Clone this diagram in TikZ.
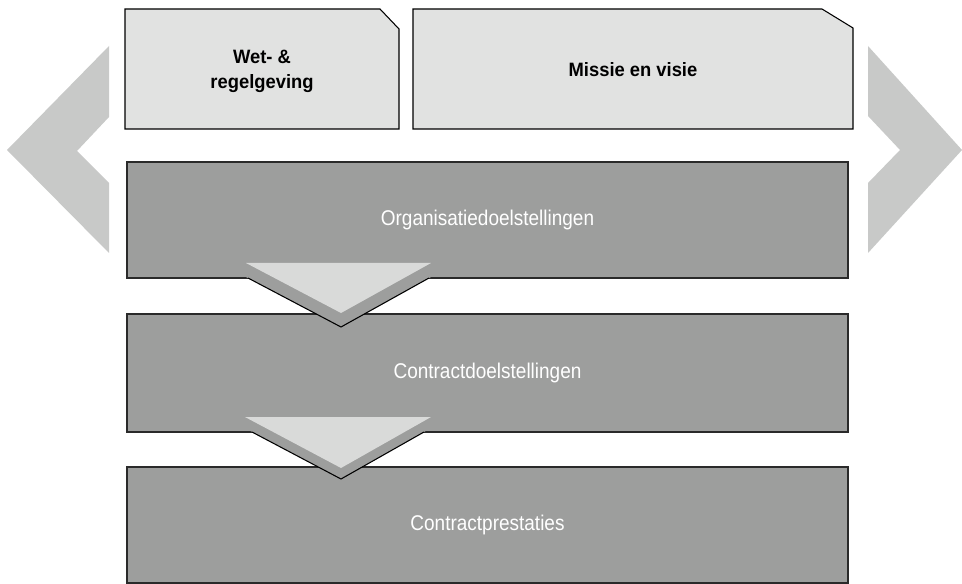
\documentclass[tikz,border=0pt]{standalone}
\usepackage{fontspec}
\newfontfamily\boldtxt{Liberation Sans}[FakeStretch=0.95]
\newfontfamily\lighttxt{Liberation Sans}[FakeStretch=0.89]
\definecolor{topfill}{HTML}{E1E2E1}
\definecolor{darkfill}{HTML}{9D9E9D}
\definecolor{chev}{HTML}{C8C9C8}
\definecolor{trifill}{HTML}{D9DAD9}
\definecolor{edgecol}{HTML}{2A2A2A}
\tikzset{
  topbox/.style={fill=topfill, draw=black, line width=0.8pt},
  toptext/.style={font=\boldtxt\bfseries\fontsize{14.5}{18.75}\selectfont, align=center, text=black},
  darkbox/.style={fill=darkfill, draw=edgecol, line width=1.1pt, minimum width=540.75pt,
     font=\lighttxt\fontsize{16}{19}\selectfont, text=white, inner sep=0pt},
  chevron/.style={fill=chev},
  shadowtri/.style={fill=darkfill},
  shadowedge/.style={draw=black, line width=0.8pt},
  lighttri/.style={fill=trifill}
}
\begin{document}
\begin{tikzpicture}[x=0.75pt,y=-0.75pt]
\useasboundingbox (0,0) rectangle (962,584);
% side chevrons
\fill[chevron] (109,46) -- (7,150) -- (109,253) -- (109,183) -- (77,151) -- (109,117) -- cycle;
\fill[chevron] (868,46) -- (962,150) -- (868,253) -- (868,183) -- (900,150) -- (868,116) -- cycle;
% top boxes
\draw[topbox] (125,9) -- (380,9) -- (399,29) -- (399,129) -- (125,129) -- cycle;
\node[toptext] (wet) at (262,71) {Wet- \&\\regelgeving};
\draw[topbox] (413,9) -- (822,9) -- (853,28) -- (853,129) -- (413,129) -- cycle;
\node[toptext] (missie) at (633,70) {Missie en visie};
% dark boxes
\node[darkbox, minimum height=87pt] (org) at (487.5,220) {Organisatiedoelstellingen};
\node[darkbox, minimum height=88.5pt] (cd) at (487.5,373) {Contractdoelstellingen};
\node[darkbox, minimum height=87pt] (cp) at (487.5,525) {Contractprestaties};
% arrow 1
\coordinate (a1l) at (248,278);
\coordinate (a1t) at (341,327);
\coordinate (a1r) at (429,278);
\fill[shadowtri] (246,277) -- (431,277) -- (a1t) -- cycle;
\draw[shadowedge] (a1l) -- (a1t) -- (a1r);
\fill[lighttri] (246,263) -- (431,263) -- (341,313) -- cycle;
% arrow 2
\coordinate (a2l) at (252,432);
\coordinate (a2t) at (341,479);
\coordinate (a2r) at (424,432);
\fill[shadowtri] (245,428) -- (431,428) -- (a2t) -- cycle;
\draw[shadowedge] (a2l) -- (a2t) -- (a2r);
\fill[lighttri] (245,417) -- (431,417) -- (341,468) -- cycle;
\end{tikzpicture}
\end{document}
